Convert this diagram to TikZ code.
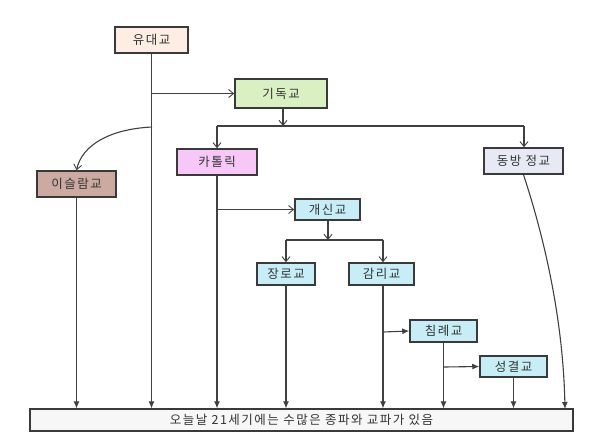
\documentclass[tikz,border=0pt]{standalone}
\usepackage{fontspec}
\newfontfamily\kr{Noto Sans CJK KR}[LetterSpace=12]
\usetikzlibrary{arrows.meta}
\definecolor{cyu}{HTML}{FDEDE2}
\definecolor{cgi}{HTML}{D9F0C2}
\definecolor{cka}{HTML}{F7C7F7}
\definecolor{cdo}{HTML}{E7EAF5}
\definecolor{cis}{HTML}{CDAAA1}
\definecolor{cbl}{HTML}{C7EEF7}
\definecolor{cbo}{HTML}{F7F7F7}
\definecolor{cbd}{HTML}{3A3A3A}
\definecolor{cln}{HTML}{404040}
\tikzset{
  box/.style={draw=cbd, line width=1.5pt, font=\kr\fontsize{12.5}{14}\selectfont, text=black!80, inner sep=0pt, anchor=center},
  opn/.style={draw=cln, line width=1.1pt, -{Straight Barb[length=5pt,width=8pt,line width=0.9pt]}},
  fil/.style={draw=cln, line width=1.1pt, -{Latex[length=7pt,width=6pt]}},
}
\begin{document}
\begin{tikzpicture}[x=1pt,y=-1pt]
\useasboundingbox (0,0) rectangle (601,445);
% nodes
\node[box, fill=cyu, minimum width=73pt, minimum height=26pt] (yu) at (151.5,40) {유대교};
\node[box, fill=cgi, minimum width=92pt, minimum height=29pt] (gi) at (281,93.5) {기독교};
\node[box, fill=cka, minimum width=80pt, minimum height=26pt] (ka) at (217,162) {카톨릭};
\node[box, fill=cdo, minimum width=79pt, minimum height=26pt] (do) at (523.5,161) {동방 정교};
\node[box, fill=cis, minimum width=79pt, minimum height=26pt] (is) at (76.5,184) {이슬람교};
\node[box, fill=cbl, minimum width=65pt, minimum height=21pt] (gae) at (327.5,209.5) {개신교};
\node[box, fill=cbl, minimum width=58pt, minimum height=22pt] (jang) at (286,274) {장로교};
\node[box, fill=cbl, minimum width=65pt, minimum height=22pt] (gam) at (381.5,274) {감리교};
\node[box, fill=cbl, minimum width=67pt, minimum height=22pt] (chim) at (443.5,331) {침례교};
\node[box, fill=cbl, minimum width=67pt, minimum height=21pt] (seong) at (513.5,366.5) {성결교};
\node[box, fill=cbo, line width=1.2pt, minimum width=543pt, minimum height=22pt] (bot) at (301.5,420) {오늘날 21세기에는 수많은 종파와 교파가 있음};
% coordinates
\coordinate (j1) at (152,93.5);
\coordinate (j2) at (152,127);
\coordinate (gbar) at (283,126);
\coordinate (gl) at (217,126);
\coordinate (gr) at (524,126);
\coordinate (kj) at (217,209.5);
\coordinate (pbar) at (328,240);
\coordinate (pl) at (286,240);
\coordinate (pr) at (383,240);
\coordinate (mj) at (383,332);
\coordinate (cj) at (444,367);
\coordinate (dend) at (565,409);
% connectors
\draw[fil] (yu.south) -- (yu.south |- bot.north);
\draw[opn] (j1) -- (gi.west);
\draw[opn] (gi.south -| gbar) -- (gbar);
\draw[draw=cln, line width=1.1pt] (gl) -- (gr);
\draw[opn] (gl) -- (ka.north -| gl);
\draw[opn] (gr) -- (do.north -| gr);
\draw[opn] (j2) .. controls (110,129) and (82,145) .. (is.north);
\draw[fil] (is.south) -- (is.south |- bot.north);
\draw[fil] (ka.south) -- (ka.south |- bot.north);
\draw[opn] (kj) -- (gae.west);
\draw[opn] (gae.south -| pbar) -- (pbar);
\draw[draw=cln, line width=1.1pt] (pl) -- (pr);
\draw[opn] (pl) -- (jang.north -| pl);
\draw[opn] (pr) -- (gam.north -| pr);
\draw[fil] (jang.south -| pl) -- (pl |- bot.north);
\draw[fil] (gam.south -| pr) -- (pr |- bot.north);
\draw[fil] (mj) -- (chim.west);
\draw[fil] (chim.south) -- (chim.south |- bot.north);
\draw[fil] (cj) -- (seong.west);
\draw[fil] (seong.south) -- (seong.south |- bot.north);
\draw[fil] (do.south) .. controls (545,240) and (563,320) .. (dend);
\end{tikzpicture}
\end{document}
